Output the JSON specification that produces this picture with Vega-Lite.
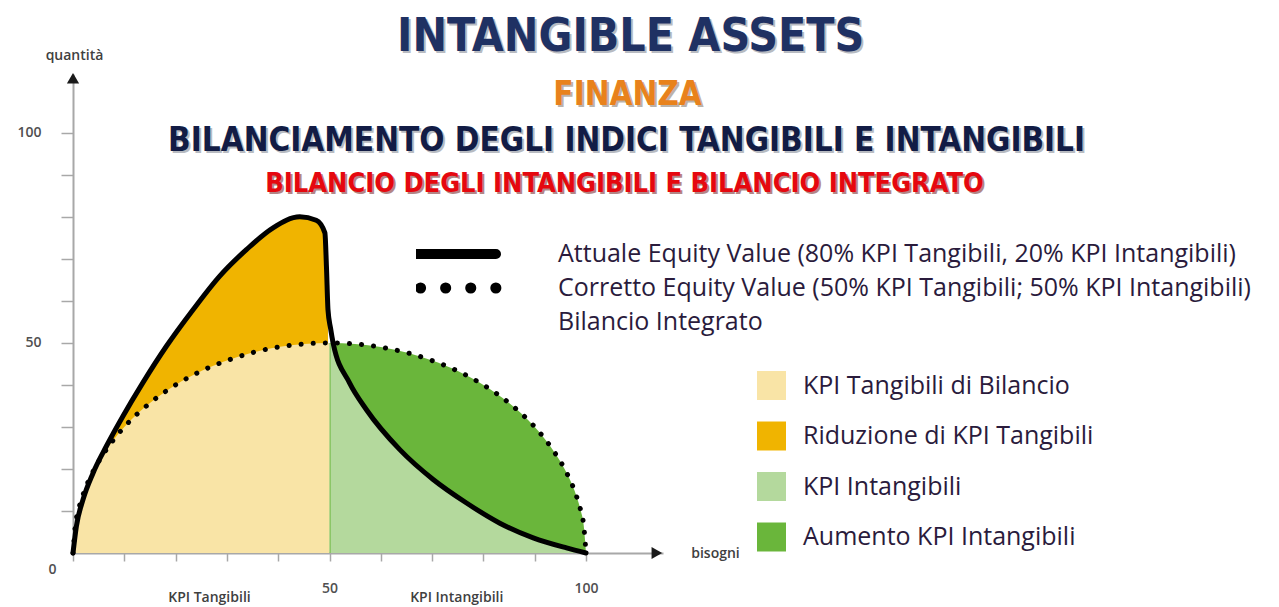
{
  "$schema": "https://vega.github.io/schema/vega-lite/v6.json",
  "width": 590,
  "height": 479,
  "autosize": {"type": "none"},
  "padding": {"left": 73, "top": 74, "right": 616, "bottom": 54},
  "background": "white",
  "config": {"view": {"stroke": null}},
  "datasets": {
    "circle": [
      {"x": 0, "y": 0}, {"x": 0.5, "y": 7.05}, {"x": 1, "y": 9.95}, {"x": 2, "y": 14.0},
      {"x": 4, "y": 19.6}, {"x": 6, "y": 23.7}, {"x": 8, "y": 27.1}, {"x": 10, "y": 30},
      {"x": 15, "y": 35.7}, {"x": 20, "y": 40}, {"x": 25, "y": 43.3}, {"x": 30, "y": 45.8},
      {"x": 35, "y": 47.7}, {"x": 40, "y": 49}, {"x": 45, "y": 49.75}, {"x": 50, "y": 50},
      {"x": 55, "y": 49.75}, {"x": 60, "y": 49}, {"x": 65, "y": 47.7}, {"x": 70, "y": 45.8},
      {"x": 75, "y": 43.3}, {"x": 80, "y": 40}, {"x": 85, "y": 35.7}, {"x": 90, "y": 30},
      {"x": 92, "y": 27.1}, {"x": 94, "y": 23.7}, {"x": 96, "y": 19.6}, {"x": 98, "y": 14.0},
      {"x": 99, "y": 9.95}, {"x": 99.5, "y": 7.05}, {"x": 100, "y": 0}
    ],
    "actual": [
      {"x": 0, "y": 0}, {"x": 0.65, "y": 6.3}, {"x": 1.95, "y": 12.7}, {"x": 3.9, "y": 19},
      {"x": 6.5, "y": 25.4}, {"x": 9.7, "y": 32.5}, {"x": 13.6, "y": 40.5}, {"x": 18.2, "y": 49.2},
      {"x": 23.4, "y": 57.9}, {"x": 28.6, "y": 65.9}, {"x": 33.8, "y": 72.2}, {"x": 39, "y": 77.4},
      {"x": 44.2, "y": 80}, {"x": 47.4, "y": 79.2}, {"x": 49.1, "y": 76.2}, {"x": 49.4, "y": 68.2},
      {"x": 49.7, "y": 57.9}, {"x": 50.2, "y": 53.5}, {"x": 50.7, "y": 50}, {"x": 53.9, "y": 40.5},
      {"x": 57.2, "y": 34.1}, {"x": 63.7, "y": 24.6}, {"x": 70.2, "y": 17.5}, {"x": 76.7, "y": 11.9},
      {"x": 83.2, "y": 7.1}, {"x": 89.7, "y": 3.6}, {"x": 96.2, "y": 1.2}, {"x": 100, "y": 0}
    ]
  },
  "layer": [
    {
      "data": {"name": "actual"},
      "transform": [{"filter": "datum.x <= 50"}],
      "mark": {"type": "area", "interpolate": "monotone"},
      "encoding": {
        "x": {
          "field": "x", "type": "quantitative",
          "scale": {"domain": [0, 115], "nice": false, "zero": false},
          "axis": {
            "values": [0, 10, 20, 30, 40, 50, 60, 70, 80, 90, 100],
            "labelExpr": "datum.value == 50 || datum.value == 100 ? datum.label : ''",
            "grid": false, "domainColor": "#a8a8a8", "domainWidth": 2,
            "tickColor": "#a8a8a8", "tickSize": 8, "tickWidth": 1.5,
            "labelPadding": 20, "labelFont": "Open Sans", "labelFontSize": 14, "labelFontWeight": 600,
            "labelColor": "#505050", "labelOverlap": false, "labelFlush": false, "labelBound": false,
            "title": "bisogni", "titleX": 642, "titleY": 0, "titleAlign": "center", "titleBaseline": "middle",
            "titleFont": "Open Sans", "titleFontSize": 14, "titleFontWeight": 600, "titleColor": "#404040"
          }
        },
        "y": {
          "field": "y", "type": "quantitative",
          "scale": {"domain": [0, 114], "nice": false, "zero": false},
          "axis": {
            "values": [10, 20, 30, 40, 50, 60, 70, 80, 90, 100],
            "labelExpr": "datum.value == 50 || datum.value == 100 ? datum.label : ''",
            "grid": false, "domainColor": "#a8a8a8", "domainWidth": 2,
            "tickColor": "#a8a8a8", "tickSize": 12, "tickWidth": 1.5,
            "labelPadding": 20, "labelFont": "Open Sans", "labelFontSize": 14, "labelFontWeight": 600,
            "labelColor": "#505050", "labelOverlap": false, "labelFlush": false, "labelBound": false,
            "title": "quantità", "titleAngle": 0, "titleX": 1, "titleY": -19, "titleAlign": "center", "titleBaseline": "middle",
            "titleFont": "Open Sans", "titleFontSize": 14, "titleFontWeight": 600, "titleColor": "#404040"
          }
        },
        "fill": {
          "datum": "Riduzione di KPI Tangibili", "type": "nominal",
          "scale": {
            "domain": ["KPI Tangibili di Bilancio", "Riduzione di KPI Tangibili", "KPI Intangibili", "Aumento KPI Intangibili"],
            "range": ["#F9E4A6", "#F0B400", "#B4D99D", "#6AB63B"]
          },
          "legend": {
            "orient": "none", "legendX": 684, "legendY": 297, "title": null,
            "symbolType": "square", "symbolSize": 841, "symbolStrokeWidth": 0,
            "labelOffset": 17, "rowPadding": 21.5, "padding": 0,
            "labelFont": "Open Sans", "labelFontSize": 25, "labelColor": "#2a1b3c", "labelLimit": 600,
            "encode": {"symbols": {"update": {
              "fill": {"signal": "datum.value === 'KPI Tangibili di Bilancio' ? '#F4CD60' : (datum.value === 'Riduzione di KPI Tangibili' ? '#F0B400' : (datum.value === 'KPI Intangibili' ? '#B4D99D' : '#6AB63B'))"}
            }}}
          }
        }
      }
    },
    {
      "data": {"name": "circle"},
      "transform": [{"filter": "datum.x <= 50"}],
      "mark": {"type": "area", "interpolate": "monotone"},
      "encoding": {
        "x": {"field": "x", "type": "quantitative"},
        "y": {"field": "y", "type": "quantitative"},
        "fill": {
          "datum": "KPI Tangibili di Bilancio", "type": "nominal",
          "scale": {
            "domain": ["KPI Tangibili di Bilancio", "Riduzione di KPI Tangibili", "KPI Intangibili", "Aumento KPI Intangibili"],
            "range": ["#F9E4A6", "#F0B400", "#B4D99D", "#6AB63B"]
          },
          "legend": null
        }
      }
    },
    {
      "data": {"name": "circle"},
      "transform": [{"filter": "datum.x >= 50"}],
      "mark": {"type": "area", "interpolate": "monotone"},
      "encoding": {
        "x": {"field": "x", "type": "quantitative"},
        "y": {"field": "y", "type": "quantitative"},
        "fill": {
          "datum": "Aumento KPI Intangibili", "type": "nominal",
          "scale": {
            "domain": ["KPI Tangibili di Bilancio", "Riduzione di KPI Tangibili", "KPI Intangibili", "Aumento KPI Intangibili"],
            "range": ["#F9E4A6", "#F0B400", "#B4D99D", "#6AB63B"]
          },
          "legend": null
        }
      }
    },
    {
      "data": {"name": "actual"},
      "transform": [{"filter": "datum.x >= 50"}],
      "mark": {"type": "area", "interpolate": "monotone"},
      "encoding": {
        "x": {"field": "x", "type": "quantitative"},
        "y": {"field": "y", "type": "quantitative"},
        "fill": {
          "datum": "KPI Intangibili", "type": "nominal",
          "scale": {
            "domain": ["KPI Tangibili di Bilancio", "Riduzione di KPI Tangibili", "KPI Intangibili", "Aumento KPI Intangibili"],
            "range": ["#F9E4A6", "#F0B400", "#B4D99D", "#6AB63B"]
          },
          "legend": null
        }
      }
    },
    {
      "data": {"name": "circle"},
      "mark": {"type": "line", "interpolate": "monotone", "color": "black", "strokeWidth": 5, "strokeCap": "round", "strokeDash": [0.1, 12]},
      "encoding": {
        "x": {"field": "x", "type": "quantitative"},
        "y": {"field": "y", "type": "quantitative"}
      }
    },
    {
      "data": {"name": "actual"},
      "mark": {"type": "line", "interpolate": "monotone", "color": "black", "strokeWidth": 5, "strokeCap": "round", "strokeJoin": "round"},
      "encoding": {
        "x": {"field": "x", "type": "quantitative"},
        "y": {"field": "y", "type": "quantitative"}
      }
    },
    {
      "data": {"name": "circle"},
      "transform": [{"filter": "datum.x < 0"}],
      "mark": {"type": "line", "color": "black", "strokeCap": "round"},
      "encoding": {
        "x": {"field": "x", "type": "quantitative"},
        "y": {"field": "y", "type": "quantitative"},
        "strokeDash": {
          "datum": "Bilancio Integrato", "type": "nominal",
          "scale": {
            "domain": ["Attuale Equity Value (80% KPI Tangibili, 20% KPI Intangibili)", "Corretto Equity Value (50% KPI Tangibili; 50% KPI Intangibili)", "Bilancio Integrato"],
            "range": [[1, 0], [0.1, 25], [1, 0]]
          },
          "legend": {
            "orient": "none", "legendX": 343, "legendY": 168, "title": null,
            "symbolType": "stroke", "symbolSize": 100, "rowPadding": 9, "clipHeight": 24, "padding": 0,
            "labelOffset": 117, "labelFont": "Open Sans", "labelFontSize": 25, "labelColor": "#2a1b3c", "labelLimit": 900,
            "symbolStrokeColor": "black",
            "encode": {"symbols": {"update": {
              "stroke": {"value": "black"},
              "size": {"value": 6400},
              "x": {"value": 40},
              "strokeCap": {"value": "round"},
              "strokeWidth": {"signal": "datum.value === 'Bilancio Integrato' ? 0 : (datum.value === 'Attuale Equity Value (80% KPI Tangibili, 20% KPI Intangibili)' ? 10 : 11)"},
              "strokeDashOffset": {"value": -4.5}
            }}}
          }
        }
      }
    },
    {
      "data": {"values": [{}]},
      "mark": {"type": "point", "shape": "triangle-up", "filled": true, "size": 150, "color": "#1a1a1a", "opacity": 1},
      "encoding": {
        "x": {"datum": 0, "type": "quantitative"},
        "y": {"datum": 113, "type": "quantitative"}
      }
    },
    {
      "data": {"values": [{}]},
      "mark": {"type": "point", "shape": "triangle-right", "filled": true, "size": 150, "color": "#1a1a1a", "opacity": 1},
      "encoding": {
        "x": {"datum": 113.8, "type": "quantitative"},
        "y": {"datum": 0, "type": "quantitative"}
      }
    },
    {
      "data": {"values": [{}]},
      "mark": {"type": "text", "text": "0", "font": "Open Sans", "fontSize": 14, "fontWeight": 600, "color": "#505050", "baseline": "middle", "align": "center"},
      "encoding": {
        "x": {"datum": -4, "type": "quantitative"},
        "y": {"datum": -4, "type": "quantitative"}
      }
    },
    {
      "data": {"values": [{}]},
      "mark": {"type": "text", "text": "KPI Tangibili", "font": "Open Sans", "fontSize": 14, "fontWeight": 600, "color": "#404040", "baseline": "bottom", "align": "center"},
      "encoding": {
        "x": {"datum": 26.6, "type": "quantitative"},
        "y": {"datum": -12.3, "type": "quantitative"}
      }
    },
    {
      "data": {"values": [{}]},
      "mark": {"type": "text", "text": "KPI Intangibili", "font": "Open Sans", "fontSize": 14, "fontWeight": 600, "color": "#404040", "baseline": "bottom", "align": "center"},
      "encoding": {
        "x": {"datum": 74.8, "type": "quantitative"},
        "y": {"datum": -12.3, "type": "quantitative"}
      }
    },
    {
      "data": {"values": [{}]},
      "mark": {"type": "text", "text": "INTANGIBLE ASSETS", "font": "DejaVu Sans Condensed", "fontWeight": "bold", "fontSize": 46, "color": "#8a8f99", "opacity": 0.6, "dx": 2, "dy": 2, "baseline": "middle", "align": "center"},
      "encoding": {
        "x": {"datum": 108.7, "type": "quantitative"},
        "y": {"datum": 122.7, "type": "quantitative"}
      }
    },
    {
      "data": {"values": [{}]},
      "mark": {"type": "text", "text": "INTANGIBLE ASSETS", "font": "DejaVu Sans Condensed", "fontWeight": "bold", "fontSize": 46, "color": "#1f3163", "baseline": "middle", "align": "center"},
      "encoding": {
        "x": {"datum": 108.7, "type": "quantitative"},
        "y": {"datum": 122.7, "type": "quantitative"}
      }
    },
    {
      "data": {"values": [{}]},
      "mark": {"type": "text", "text": "FINANZA", "font": "DejaVu Sans Condensed", "fontWeight": "bold", "fontSize": 33, "color": "#7a6a5a", "opacity": 0.5, "dx": 2, "dy": 2, "baseline": "middle", "align": "center"},
      "encoding": {
        "x": {"datum": 108.1, "type": "quantitative"},
        "y": {"datum": 109.1, "type": "quantitative"}
      }
    },
    {
      "data": {"values": [{}]},
      "mark": {"type": "text", "text": "FINANZA", "font": "DejaVu Sans Condensed", "fontWeight": "bold", "fontSize": 33, "color": "#E8821C", "baseline": "middle", "align": "center"},
      "encoding": {
        "x": {"datum": 108.1, "type": "quantitative"},
        "y": {"datum": 109.1, "type": "quantitative"}
      }
    },
    {
      "data": {"values": [{}]},
      "mark": {"type": "text", "text": "BILANCIAMENTO DEGLI INDICI TANGIBILI E INTANGIBILI", "font": "DejaVu Sans Condensed", "fontWeight": "bold", "fontSize": 33, "color": "#8a8f99", "opacity": 0.6, "dx": 2, "dy": 2, "baseline": "middle", "align": "center"},
      "encoding": {
        "x": {"datum": 107.9, "type": "quantitative"},
        "y": {"datum": 98.1, "type": "quantitative"}
      }
    },
    {
      "data": {"values": [{}]},
      "mark": {"type": "text", "text": "BILANCIAMENTO DEGLI INDICI TANGIBILI E INTANGIBILI", "font": "DejaVu Sans Condensed", "fontWeight": "bold", "fontSize": 33, "color": "#121c45", "baseline": "middle", "align": "center"},
      "encoding": {
        "x": {"datum": 107.9, "type": "quantitative"},
        "y": {"datum": 98.1, "type": "quantitative"}
      }
    },
    {
      "data": {"values": [{}]},
      "mark": {"type": "text", "text": "BILANCIO DEGLI INTANGIBILI E BILANCIO INTEGRATO", "font": "DejaVu Sans Condensed", "fontWeight": "bold", "fontSize": 27, "color": "#6a1010", "opacity": 0.5, "dx": 2, "dy": 2, "baseline": "middle", "align": "center"},
      "encoding": {
        "x": {"datum": 107.5, "type": "quantitative"},
        "y": {"datum": 87.9, "type": "quantitative"}
      }
    },
    {
      "data": {"values": [{}]},
      "mark": {"type": "text", "text": "BILANCIO DEGLI INTANGIBILI E BILANCIO INTEGRATO", "font": "DejaVu Sans Condensed", "fontWeight": "bold", "fontSize": 27, "color": "#E5080F", "baseline": "middle", "align": "center"},
      "encoding": {
        "x": {"datum": 107.5, "type": "quantitative"},
        "y": {"datum": 87.9, "type": "quantitative"}
      }
    }
  ]
}
